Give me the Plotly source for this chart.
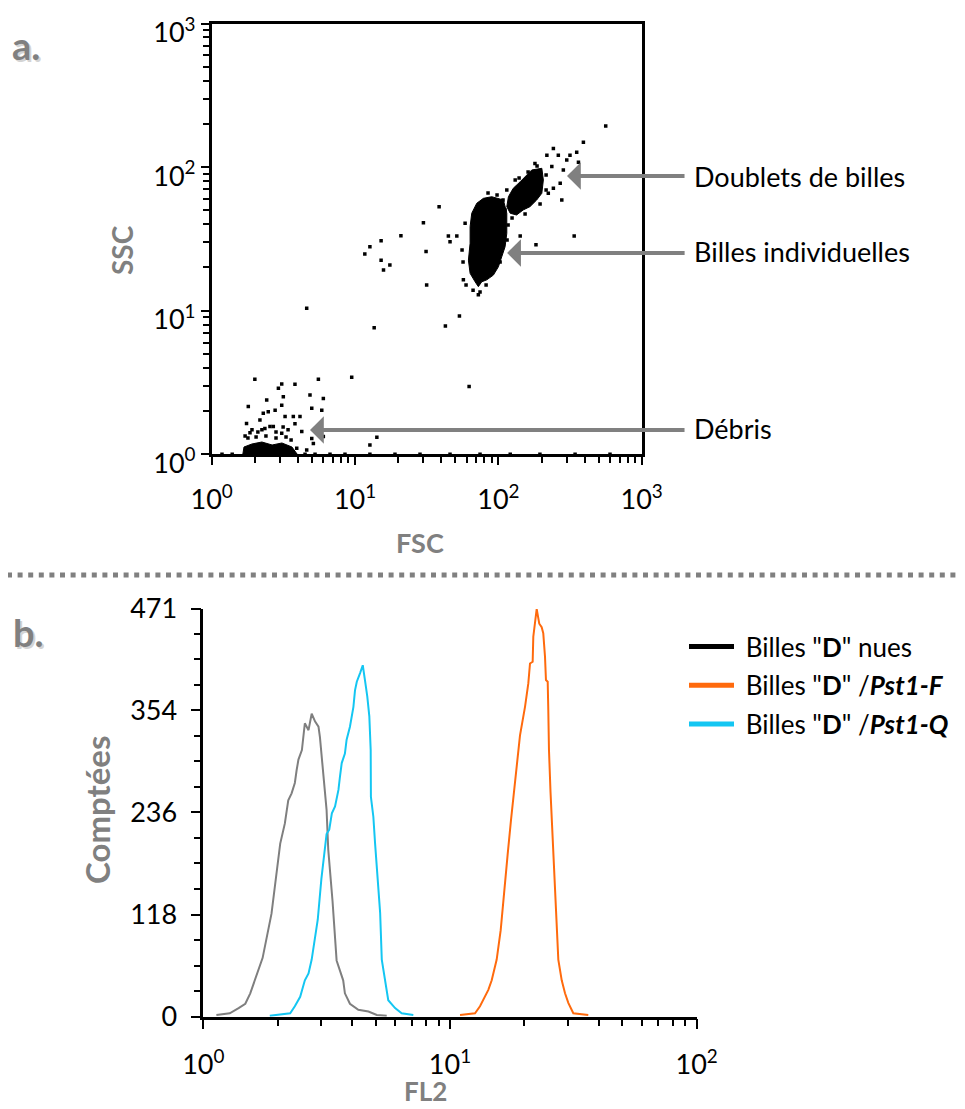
import plotly.graph_objects as go

# ---------------- Panel a : FSC / SSC dot plot ----------------
# dense cloud of single beads (outline of the black area)
singlets_fsc = [89.9, 108.4, 114.5, 114.5, 111.4, 105.6, 100.0, 92.3, 83.0, 76.6, 72.5, 68.8,
                63.5, 61.8, 63.5, 63.5, 65.2, 70.7, 78.6]
singlets_ssc = [62.2, 59.0, 47.7, 34.6, 27.9, 23.8, 20.2, 17.7, 16.4, 15.9, 14.7, 15.9,
                18.2, 22.5, 29.5, 38.5, 47.7, 56.0, 60.6]
# dense cloud of bead doublets
doublets_fsc = [171, 201, 206, 201, 185, 166, 149, 134, 121, 114.5, 117.5, 127, 142, 158]
doublets_ssc = [95.5, 98.1, 81.3, 65.7, 59.0, 53.0, 50.3, 46.4, 47.7, 53.0, 62.2, 71.2, 79.1, 88.1]
# dense debris at the bottom
debris_fsc = [1.65, 1.68, 1.91, 2.24, 2.64, 3.09, 3.63, 3.94]
debris_ssc = [1.005, 1.124, 1.18, 1.218, 1.161, 1.199, 1.124, 1.005]
# isolated events
events_fsc = [561, 392, 242, 218, 262, 316, 352, 362, 300, 284, 236, 180, 270, 242, 277, 223,
              131, 114.5, 38.6, 30.0, 20.9, 15.2, 12.7, 11.7, 15.2, 15.8, 17.5, 31.3, 44.8, 51.3,
              46.0, 31.6, 53.5, 142, 183, 338, 58.6, 57.0, 72.5,
              55.8, 56.7, 59.5, 66.6, 74.5, 82.1, 102.8, 116.9, 115.0, 84.7, 97.9,
              107.8, 111.4, 124.6, 153.6, 195.4, 215.3, 215.3, 186.2, 161.2, 139.5,
              4.60, 13.6, 42.7, 62.5, 9.48, 14.2, 12.7,
              2.0, 3.81, 5.55, 3.08, 2.92, 3.16, 3.08, 2.42, 1.80, 2.77, 2.48, 2.29, 2.17, 3.25,
              3.71, 4.13, 4.99, 5.86, 6.01, 4.85, 1.75, 2.55, 2.69, 3.81, 4.25, 3.08, 4.99, 6.01,
              5.12, 3.92, 4.60, 1.91, 2.10, 2.35, 2.81, 3.41, 1.71,
              1.79, 2.04, 2.39, 2.81, 3.30, 3.58, 2.24, 3.15, 1.85,
              1.18, 1.39, 4.48, 5.26, 6.69, 8.51, 12.7, 19.0, 28.4, 46.0, 74.5, 121, 195, 343, 601]
events_ssc = [193, 149, 135, 121, 121, 121, 127, 108, 112, 95.5, 101, 106, 77.1, 71.2, 59.0, 65.7,
              81.3, 69.3, 53.0, 41.0, 33.3, 30.7, 27.9, 24.8, 22.5, 19.2, 20.8, 25.8, 33.1, 33.1,
              30.2, 15.1, 9.19, 33.1, 28.8, 33.1, 40.6, 16.4, 12.9,
              26.5, 21.8, 15.1, 13.9, 13.5, 15.1, 21.8, 39.5, 31.1, 66.0, 63.9,
              59.0, 50.3, 44.2, 47.1, 55.3, 69.3, 88.1, 101.8, 92.5, 84.0,
              10.4, 7.61, 7.83, 2.96, 3.44, 1.313, 1.161,
              3.33, 3.07, 3.33, 3.09, 2.88, 2.52, 2.20, 2.39, 2.15, 2.03, 1.98, 1.93, 1.73, 1.83,
              1.83, 1.83, 2.09, 2.03, 2.45, 2.59, 1.64, 1.56, 1.56, 1.63, 1.44, 1.40, 1.29, 1.33,
              1.19, 1.10, 1.07, 1.48, 1.43, 1.51, 1.43, 1.48, 1.34,
              1.30, 1.32, 1.34, 1.30, 1.32, 1.26, 1.48, 1.55, 1.41,
              1.0, 1.0, 1.0, 1.0, 1.0, 1.0, 1.0, 1.0, 1.0, 1.0, 1.0, 1.0, 1.0, 1.0, 1.0]

log_ticks = [1, 10, 100, 1000]
log_ticktext = ["10<sup>0</sup>", "10<sup>1</sup>", "10<sup>2</sup>", "10<sup>3</sup>"]

# ---------------- Panel b : FL2 histograms ----------------
fl2_nues = [1.13, 1.28, 1.39, 1.48, 1.55, 1.62, 1.70, 1.74, 1.89, 2.05, 2.14, 2.21, 2.28, 2.35,
            2.39, 2.43, 2.51, 2.54, 2.58, 2.67, 2.75, 2.84, 2.93, 2.97, 3.02, 3.07, 3.11, 3.16,
            3.21, 3.34, 3.47, 3.69, 3.75, 3.93, 4.25, 4.67, 5.05, 5.54]
cnt_nues = [2, 4, 10, 15, 27, 42, 58, 68, 119, 200, 223, 250, 258, 270, 285, 297, 308, 320, 339,
            331, 350, 341, 335, 323, 300, 277, 262, 239, 193, 134, 65, 42, 27, 15, 8, 6, 2, 1]

fl2_pst1f = [10.98, 12.63, 13.23, 13.87, 14.30, 14.76, 15.23, 15.46, 16.05, 16.57, 16.85, 17.12,
             17.67, 18.14, 18.69, 19.22, 20.14, 20.77, 21.10, 21.63, 21.76, 22.11, 22.46, 23.01,
             23.53, 23.88, 24.27, 24.49, 24.89, 25.03, 25.19, 25.55, 25.92, 26.52, 26.90, 27.48,
             28.37, 29.26, 30.17, 31.61, 36.35]
cnt_pst1f = [2, 4, 12, 23, 31, 42, 58, 66, 100, 139, 163, 187, 227, 259, 297, 325, 358, 385, 408,
             410, 439, 454, 471, 454, 450, 443, 416, 389, 387, 354, 308, 260, 219, 159, 120, 66,
             42, 27, 16, 4, 2]

fl2_pst1q = [1.86, 2.25, 2.35, 2.47, 2.58, 2.67, 2.75, 2.91, 3.01, 3.16, 3.24, 3.32, 3.42, 3.53,
             3.58, 3.64, 3.75, 3.81, 3.93, 4.00, 4.06, 4.12, 4.19, 4.32, 4.43, 4.52, 4.62, 4.71,
             4.77, 4.78, 4.89, 4.97, 5.04, 5.21, 5.29, 5.45, 5.62, 5.99, 6.37, 7.10]
cnt_pst1q = [1, 4, 12, 23, 42, 50, 66, 112, 159, 211, 216, 235, 243, 262, 277, 293, 304, 320, 335,
             347, 358, 377, 387, 397, 406, 389, 370, 347, 308, 254, 231, 200, 179, 120, 66, 42,
             19, 10, 4, 2]

count_ticks = [0, 118, 236, 354, 471]
fl2_ticks = [1, 10, 100]
fl2_ticktext = ["10<sup>0</sup>", "10<sup>1</sup>", "10<sup>2</sup>"]

legend_names = ['\u00a0Billes "<b>D</b>" nues',
                '\u00a0Billes "<b>D</b>" /<b><i>Pst1-F</i></b>',
                '\u00a0Billes "<b>D</b>" /<b><i>Pst1-Q</i></b>']

# ---------------- styles ----------------
FONT = "Lato, 'Open Sans', sans-serif"
GRAY = "#808080"
C_NUES = "#7f7f7f"
C_F = "#ff6a0d"
C_Q = "#14c6f2"
# page keeps an 8 px body margin; positions below are in window pixels
OFFX, OFFY = 8, 8
W, H = 965, 1109


def px(x):
    return (x - OFFX) / W


def py(y):
    return 1 - (y - OFFY) / H


fig = go.Figure()

# panel a traces
for fx, fy in [(singlets_fsc, singlets_ssc), (doublets_fsc, doublets_ssc), (debris_fsc, debris_ssc)]:
    fig.add_trace(go.Scatter(x=fx + fx[:1], y=fy + fy[:1], mode="lines", fill="toself",
                             fillcolor="black", line=dict(color="black", width=1),
                             showlegend=False, hoverinfo="skip", xaxis="x", yaxis="y"))
fig.add_trace(go.Scatter(x=events_fsc, y=events_ssc, mode="markers",
                         marker=dict(symbol="square", size=3.5, color="black", line=dict(width=0)),
                         showlegend=False, xaxis="x", yaxis="y"))

# panel b traces
fig.add_trace(go.Scatter(x=fl2_nues, y=cnt_nues, mode="lines", line=dict(color=C_NUES, width=2),
                         showlegend=False, xaxis="x2", yaxis="y2"))
fig.add_trace(go.Scatter(x=fl2_pst1f, y=cnt_pst1f, mode="lines", line=dict(color=C_F, width=2),
                         showlegend=False, xaxis="x2", yaxis="y2"))
fig.add_trace(go.Scatter(x=fl2_pst1q, y=cnt_pst1q, mode="lines", line=dict(color=C_Q, width=2),
                         showlegend=False, xaxis="x2", yaxis="y2"))
# legend entries
for name, col, grp in zip(legend_names, ["black", C_F, C_Q], ["g1", "g2", "g3"]):
    fig.add_trace(go.Scatter(x=[None], y=[None], mode="lines", name=name, legendgroup=grp,
                             line=dict(color=col, width=5), xaxis="x2", yaxis="y2"))

axis_common = dict(showgrid=False, zeroline=False, showline=True, linecolor="black",
                   linewidth=2.5, ticks="outside", tickcolor="black", tickwidth=2,
                   automargin=False, ticklabeloverflow="allow",
                   tickfont=dict(family=FONT, size=27, color="black"))

fig.update_layout(
    width=W, height=H,
    margin=dict(l=0, r=0, t=0, b=0),
    paper_bgcolor="white", plot_bgcolor="white",
    font=dict(family=FONT, color="black"),
    xaxis=dict(axis_common, type="log", range=[0, 3], domain=[px(211.7), px(641.7)],
               anchor="y", mirror=True, tickmode="array", tickvals=log_ticks,
               ticktext=log_ticktext, ticklen=8, ticklabelstandoff=12,
               minor=dict(dtick="D1", ticks="outside", ticklen=6, tickwidth=1.5,
                          tickcolor="black")),
    yaxis=dict(axis_common, type="log", range=[0, 3], domain=[py(454.3), py(23.5)],
               anchor="x", mirror=True, tickmode="array", tickvals=log_ticks,
               ticktext=log_ticktext, ticklen=8, ticklabelshift=9,
               minor=dict(dtick="D1", ticks="outside", ticklen=6, tickwidth=1.5,
                          tickcolor="black")),
    xaxis2=dict(axis_common, type="log", range=[0, 2], domain=[px(203.3), px(696.7)],
                anchor="y2", tickmode="array", tickvals=fl2_ticks, ticktext=fl2_ticktext,
                ticklen=10, ticklabelstandoff=12,
                minor=dict(dtick="D1", ticks="outside", ticklen=7, tickwidth=2,
                           tickcolor="black")),
    yaxis2=dict(axis_common, range=[0, 471], domain=[py(1016.7), py(609)], anchor="x2",
                tickmode="array", tickvals=count_ticks, ticklen=10, ticklabelstandoff=8,
                minor=dict(dtick=29.5, tick0=0, ticks="outside", ticklen=7, tickwidth=2,
                           tickcolor="black")),
    legend=dict(x=px(684), y=py(623), xanchor="left", yanchor="top",
                font=dict(family=FONT, size=26, color="black"),
                traceorder="grouped", tracegroupgap=2, itemwidth=45,
                bgcolor="rgba(0,0,0,0)"),
    showlegend=True,
)

# separator line between panels
fig.add_shape(type="line", xref="paper", yref="paper", x0=px(7), x1=px(965), y0=py(575),
              y1=py(575), line=dict(color=GRAY, width=5, dash="5px,5.6px"))

ann = []
centered = dict(xref="paper", yref="paper", xanchor="center", yanchor="middle", showarrow=False)
# panel letters with soft shadow
for txt, xx, yy in [("a.", 26, 45), ("b.", 28, 632)]:
    ann.append(dict(centered, text=f"<b>{txt}</b>", x=px(xx + 2), y=py(yy + 2),
                    font=dict(family=FONT, size=38, color="#d4d4d4")))
    ann.append(dict(centered, text=f"<b>{txt}</b>", x=px(xx), y=py(yy),
                    font=dict(family=FONT, size=38, color=GRAY)))
# axis titles
ann += [
    dict(centered, text="<b>SSC</b>", x=px(122), y=py(250), textangle=-90,
         font=dict(family=FONT, size=28, color=GRAY)),
    dict(centered, text="<b>FSC</b>", x=px(420), y=py(542),
         font=dict(family=FONT, size=27, color=GRAY)),
    dict(centered, text="<b>Comptées</b>", x=px(97), y=py(810), textangle=-90,
         font=dict(family=FONT, size=33, color=GRAY)),
    dict(centered, text="<b>FL2</b>", x=px(425), y=py(1091),
         font=dict(family=FONT, size=26, color=GRAY)),
]
# population arrows (tip given in log10 axis units) + labels
for tipx, tipy, tail_px, label, label_y in [
    (2.479, 1.938, 119, "Doublets de billes", 176),
    (2.061, 1.402, 179, "Billes individuelles", 251),
    (0.686, 0.169, 376, "Débris", 428),
]:
    ann.append(dict(x=tipx, y=tipy, xref="x", yref="y", ax=tail_px, ay=0, text="",
                    showarrow=True, arrowhead=1, arrowsize=1.15, arrowwidth=4,
                    arrowcolor=GRAY))
    ann.append(dict(text=label, xref="paper", yref="paper", x=px(692), y=py(label_y),
                    xanchor="left", yanchor="middle", showarrow=False,
                    font=dict(family=FONT, size=27, color="black")))
fig.update_layout(annotations=ann)

fig.write_html("out.html")
